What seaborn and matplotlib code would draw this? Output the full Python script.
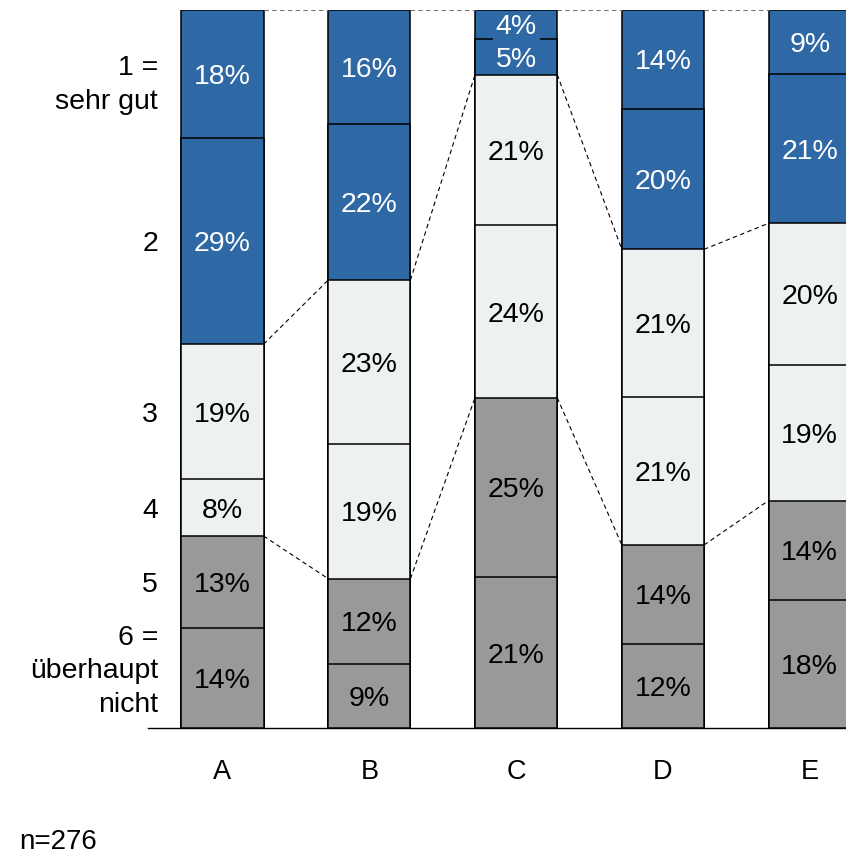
import numpy as np
import matplotlib
matplotlib.use("Agg")
import matplotlib.pyplot as plt
import matplotlib.transforms as mtransforms
import seaborn as sns

# Survey ratings per item, in percent (1 = sehr gut ... 6 = überhaupt nicht)
groups = ["A", "B", "C", "D", "E"]
rating_1 = [18, 16, 4, 14, 9]
rating_2 = [29, 22, 5, 20, 21]
rating_3 = [19, 23, 21, 21, 20]
rating_4 = [8, 19, 24, 21, 19]
rating_5 = [13, 12, 25, 14, 14]
rating_6 = [14, 9, 21, 12, 18]
rating_labels = ["1 =\nsehr gut", "2", "3", "4", "5", "6 =\nüberhaupt\nnicht"]
sample_note = "n=276"

BLUE = "#2e68a5"
LIGHT = "#eef1f2"
GREY = "#999999"
seg_colors = [BLUE, BLUE, LIGHT, LIGHT, GREY, GREY]
text_colors = ["white", "white", "black", "black", "black", "black"]

sns.set_style("white")
plt.rcParams["font.family"] = ["Liberation Sans", "DejaVu Sans"]
plt.rcParams["text.color"] = "black"
plt.rcParams["xtick.color"] = "black"
plt.rcParams["ytick.color"] = "black"

layers = np.array([rating_1, rating_2, rating_3, rating_4, rating_5, rating_6], dtype=float)
# Rounded percentages don't add to exactly 100, so each column is rescaled
shares = layers / layers.sum(axis=0) * 100
# tops[k] = upper edge of segment k (segments stacked from rating 6 at the bottom)
tops = np.array([shares[k:].sum(axis=0) for k in range(6)])
bottoms = np.vstack([tops[1:], np.zeros(len(groups))])

W, H = 846, 852
fig = plt.figure(figsize=(W / 100, H / 100), dpi=100)
ax = fig.add_axes([148 / W, 124 / H, 698 / W, 718 / H])

bar_width = 0.56
for k in range(6):
    sns.barplot(x=groups, y=tops[k], color=seg_colors[k], saturation=1,
                width=bar_width, edgecolor="black", linewidth=1.1, ax=ax)

# Dashed connectors between neighbouring bars at the colour-group borders
for k, col in [(0, "0.45"), (2, "black"), (4, "black")]:
    for i in range(len(groups) - 1):
        ax.plot([i + bar_width / 2, i + 1 - bar_width / 2],
                [tops[k][i], tops[k][i + 1]],
                linestyle=(0, (4, 3)), color=col, lw=0.8, zorder=1)

# Percentage labels in the middle of every segment
for k in range(6):
    for i in range(len(groups)):
        y = (tops[k][i] + bottoms[k][i]) / 2
        box = None
        if shares[k][i] < 5:
            box = dict(facecolor=seg_colors[k], edgecolor="none", pad=2)
        ax.text(i, y, f"{int(layers[k][i])}%", ha="center", va="center_baseline",
                fontsize=20.5, color=text_colors[k], bbox=box, zorder=5)

ax.set_xlim(-0.5075, 4.247)
ax.set_ylim(0, 100)
ax.set_xlabel("")
ax.set_ylabel("")

# Rating scale written next to the first column's segments
ax.set_yticks((tops[:, 0] + bottoms[:, 0]) / 2)
ax.set_yticklabels(rating_labels, fontsize=20.5, linespacing=1.38)
ax.tick_params(axis="y", length=0, pad=-7.2)
ax.tick_params(axis="x", length=0, pad=22, labelsize=19.5)

# nudge the multi-line end labels a little
ylabels = ax.get_yticklabels()
for lab, dy in [(ylabels[0], -3), (ylabels[-1], 10)]:
    lab.set_transform(lab.get_transform() +
                      mtransforms.ScaledTranslation(0, dy / 72, fig.dpi_scale_trans))

for side in ["top", "right", "left"]:
    ax.spines[side].set_visible(False)
ax.spines["bottom"].set_color("black")
ax.spines["bottom"].set_linewidth(1.0)
ax.spines["bottom"].set_zorder(0.5)

fig.text(19 / W, 3 / H, sample_note, ha="left", va="baseline", fontsize=20)

fig.savefig("out.png", dpi=100)
